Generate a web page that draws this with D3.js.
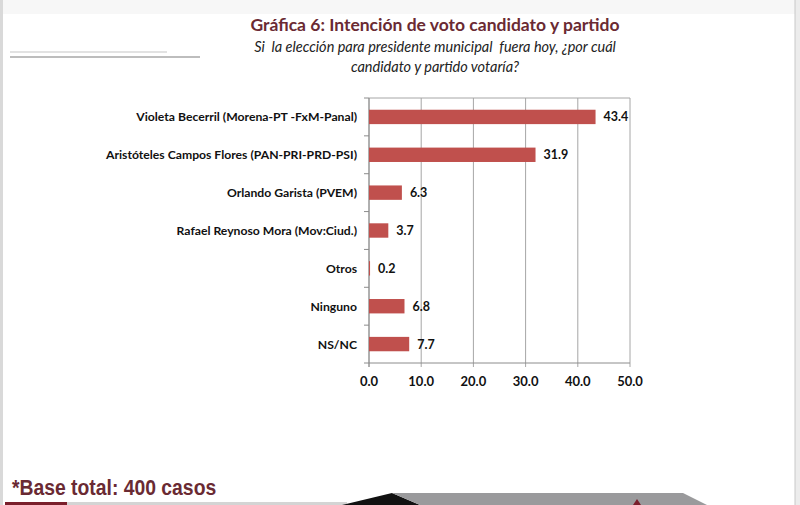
<!DOCTYPE html>
<html>
<head>
<meta charset="utf-8">
<title>Gráfica 6</title>
<script src="https://cdn.jsdelivr.net/npm/d3@7"></script>
<style>
  body { margin:0; padding:0; background:#fff; }
  svg { display:block; }
</style>
</head>
<body>
<div id="chart"></div>
<script>
// data
var categories = ['Violeta Becerril (Morena-PT -FxM-Panal)', 'Aristóteles Campos Flores (PAN-PRI-PRD-PSI)',
  'Orlando Garista (PVEM)', 'Rafael Reynoso Mora (Mov:Ciud.)', 'Otros', 'Ninguno', 'NS/NC'];
var values = [43.4, 31.9, 6.3, 3.7, 0.2, 6.8, 7.7];
var xTicks = [0, 10, 20, 30, 40, 50];
var titleText = 'Gráfica 6: Intención de voto candidato y partido';
var subtitleLines = ['Si  la elección para presidente municipal  fuera hoy, ¿por cuál', 'candidato y partido votaría?'];
var footText = '*Base total: 400 casos';

var W = 800, H = 505;
var svg = d3.select('#chart').append('svg').attr('width', W).attr('height', H);

// page frame
svg.append('rect').attr('x',0).attr('y',0).attr('width',W).attr('height',H).attr('fill','#fff');
svg.append('rect').attr('x',0).attr('y',0).attr('width',W).attr('height',14).attr('fill','#f7f7f7');
svg.append('rect').attr('x',0).attr('y',0).attr('width',3).attr('height',H).attr('fill','#d9d9d9');
svg.append('rect').attr('x',795).attr('y',0).attr('width',5).attr('height',H).attr('fill','#ececec');
svg.append('line').attr('x1',795).attr('x2',795).attr('y1',0).attr('y2',H).attr('stroke','#c8c8c8');

// little grey rules on the left
svg.append('line').attr('x1',10).attr('x2',167).attr('y1',52).attr('y2',52).attr('stroke','#d8d8d8').attr('stroke-width',1.5);
svg.append('line').attr('x1',10).attr('x2',200).attr('y1',57).attr('y2',57).attr('stroke','#bdbdbd').attr('stroke-width',2);

// titles
svg.append('text').attr('x',435).attr('y',31).attr('text-anchor','middle')
  .style('font-family','Lato, sans-serif').style('font-weight','bold').style('font-size','17.5px')
  .attr('fill','#6a2a33').text(titleText);
subtitleLines.forEach(function(s, i) {
  svg.append('text').attr('x',435).attr('y',52 + i*20).attr('text-anchor','middle')
    .style('font-family','Lato, sans-serif').style('font-style','italic').style('font-size','14.5px')
    .style('white-space','pre').attr('xml:space','preserve')
    .attr('fill','#222').text(s);
});

// plot area
var pLeft = 369, pRight = 630, pTop = 98, pBottom = 363;
var x = d3.scaleLinear().domain([0, 50]).range([pLeft, pRight]);
var y = d3.scaleBand().domain(categories).range([pTop, pBottom]).paddingInner(0.62).paddingOuter(0.31);

// gridlines
svg.append('g').selectAll('line').data(xTicks).enter().append('line')
  .attr('x1', function(d){ return x(d); }).attr('x2', function(d){ return x(d); })
  .attr('y1', pTop).attr('y2', pBottom + 4)
  .attr('stroke', '#a6a6a6').attr('stroke-width', 1);
svg.append('line').attr('x1',pLeft).attr('x2',pRight).attr('y1',pTop).attr('y2',pTop).attr('stroke','#a6a6a6');
svg.append('line').attr('x1',pLeft).attr('x2',pRight).attr('y1',pBottom).attr('y2',pBottom).attr('stroke','#8c8c8c');
svg.append('line').attr('x1',pLeft).attr('x2',pLeft).attr('y1',pTop).attr('y2',pBottom+4).attr('stroke','#8c8c8c');

// category boundary ticks on the left axis
var step = y.step();
svg.append('g').selectAll('line').data(d3.range(categories.length + 1)).enter().append('line')
  .attr('x1', pLeft - 5).attr('x2', pLeft)
  .attr('y1', function(i){ return pTop + i*step; }).attr('y2', function(i){ return pTop + i*step; })
  .attr('stroke', '#8c8c8c');

// bars
svg.append('g').selectAll('rect').data(values).enter().append('rect')
  .attr('x', x(0))
  .attr('y', function(d, i){ return y(categories[i]); })
  .attr('width', function(d){ return x(d) - x(0); })
  .attr('height', y.bandwidth())
  .attr('fill', '#c0504d');

// value labels
svg.append('g').selectAll('text').data(values).enter().append('text')
  .attr('x', function(d){ return x(d) + 8; })
  .attr('y', function(d, i){ return y(categories[i]) + y.bandwidth()/2 + 4.5; })
  .style('font-family','Lato, sans-serif').style('font-weight','bold').style('font-size','12.5px')
  .attr('fill','#111')
  .text(function(d){ return d.toFixed(1); });

// category labels
svg.append('g').selectAll('text').data(categories).enter().append('text')
  .attr('x', 357)
  .attr('y', function(d){ return y(d) + y.bandwidth()/2 + 4.5; })
  .attr('text-anchor','end')
  .style('font-family','Lato, sans-serif').style('font-weight','bold').style('font-size','12.2px')
  .attr('fill','#111')
  .text(function(d){ return d; });

// x tick labels
svg.append('g').selectAll('text').data(xTicks).enter().append('text')
  .attr('x', function(d){ return x(d); }).attr('y', 386)
  .attr('text-anchor','middle')
  .style('font-family','Lato, sans-serif').style('font-weight','bold').style('font-size','13px')
  .attr('fill','#111')
  .text(function(d){ return d.toFixed(1); });

// footer
svg.append('text').attr('x',12).attr('y',495)
  .attr('transform','translate(12,0) scale(0.9,1) translate(-12,0)')
  .style('font-family','"Liberation Sans", Arial, sans-serif').style('font-weight','bold').style('font-size','21.5px')
  .attr('fill','#6a2a33').text(footText);

// bottom decoration strip
svg.append('rect').attr('x',5).attr('y',502).attr('width',62).attr('height',3).attr('fill','#7a1f2c');
svg.append('rect').attr('x',67).attr('y',502).attr('width',280).attr('height',3).attr('fill','#d4d4d4');
svg.append('polygon').attr('points','342,505 392,493 420,505').attr('fill','#111');
svg.append('polygon').attr('points','392,493 683,493 707,505 420,505').attr('fill','#9a9a9c');
svg.append('polygon').attr('points','633,505 637,499 641,505').attr('fill','#7a1f2c');
</script>
</body>
</html>
